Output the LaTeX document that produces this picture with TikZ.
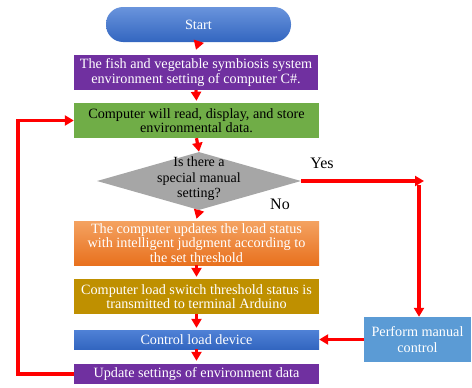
\documentclass[tikz,border=0pt]{standalone}
\usepackage{fontspec}
\setmainfont{Liberation Serif}
\usetikzlibrary{arrows.meta,shapes.geometric}
\definecolor{cpurple}{HTML}{7030A0}
\definecolor{cgreen}{HTML}{70AD47}
\definecolor{cgray}{HTML}{A6A6A6}
\definecolor{corangeT}{HTML}{F4A261}
\definecolor{corangeB}{HTML}{E8711E}
\definecolor{cgold}{HTML}{BF9000}
\definecolor{cblueT}{HTML}{4F81D6}
\definecolor{cblueB}{HTML}{3366C0}
\definecolor{clblue}{HTML}{5B9BD5}
\definecolor{cred}{HTML}{FF0000}
\tikzset{
  procbox/.style={rectangle, inner sep=0pt, align=center, font=\fontsize{14.2}{14.5}\selectfont, text=white, minimum width=245pt},
  flow/.style={draw=cred, line width=3.2pt, -{Triangle[length=9pt,width=10pt]}},
  lbl/.style={font=\fontsize{16}{18}\selectfont, inner sep=0pt}
}
\begin{document}
\begin{tikzpicture}[x=1pt,y=-1pt]
\useasboundingbox (0,0) rectangle (472,388);
\node[procbox, rounded corners=17pt, minimum width=185pt, minimum height=35pt, top color=cblueT!85!white, bottom color=cblueB] (start) at (198.5,24.5) {Start};
\node[procbox, fill=cpurple, minimum width=244pt, minimum height=35pt] (b1) at (196,72.5) {The fish and vegetable symbiosis system\\environment setting of computer C\#.};
\node[procbox, fill=cgreen, text=black, minimum height=35pt] (b2) at (196.5,120.5) {Computer will read, display, and store\\environmental data.};
\node[diamond, fill=cgray, inner sep=0pt, minimum width=204pt, minimum height=58pt] (d) at (199,181) {};
\node[align=center, font=\fontsize{14}{15.5}\selectfont, inner sep=0pt] (dt) at (199,179) {Is there a\\special manual\\setting?};
\node[procbox, top color=corangeT, bottom color=corangeB, minimum height=44pt] (b3) at (196.5,243) {The computer updates the load status\\with intelligent judgment according to\\the set threshold};
\node[procbox, fill=cgold, minimum height=35pt] (b4) at (196.5,296.5) {Computer load switch threshold status is\\transmitted to terminal Arduino};
\node[procbox, top color=cblueT, bottom color=cblueB, minimum height=19pt] (b5) at (196.5,339.5) {Control load device};
\node[procbox, fill=cpurple, minimum height=20pt] (b6) at (196.5,374) {Update settings of environment data};
\node[procbox, fill=clblue, minimum width=107pt, minimum height=45pt, font=\fontsize{14.2}{16.5}\selectfont] (m) at (417.5,339.5) {Perform manual\\control};
\node[lbl] (yes) at (322,163) {Yes};
\node[lbl] (no) at (280,204) {No};
\coordinate (yc) at (424,181);
\coordinate (yv) at (419,185);
\coordinate (lb) at (18,374);
\coordinate (lt) at (18,120.5);
% arrows
\draw[flow] (start.south) -- ([yshift=5pt]b1.north);
\draw[flow] (b1.south) -- ([yshift=2pt]b2.north);
\draw[flow] (b2.south) -- (d.north);
\draw[flow] (d.south) -- ([yshift=2pt]b3.north);
\draw[flow] (b3.south) -- ([yshift=2pt]b4.north);
\draw[flow] (b4.south) -- ([yshift=2pt]b5.north);
\draw[flow] (b5.south) -- ([yshift=3pt]b6.north);
\draw[flow] (d.east) -- (yc);
\draw[flow] (yv) -- (yv |- m.north);
\draw[flow] (m.west) -- (b5.east);
\draw[flow] (b6.west) -- (lb) -- (lt) -- (b2.west);
\end{tikzpicture}
\end{document}
